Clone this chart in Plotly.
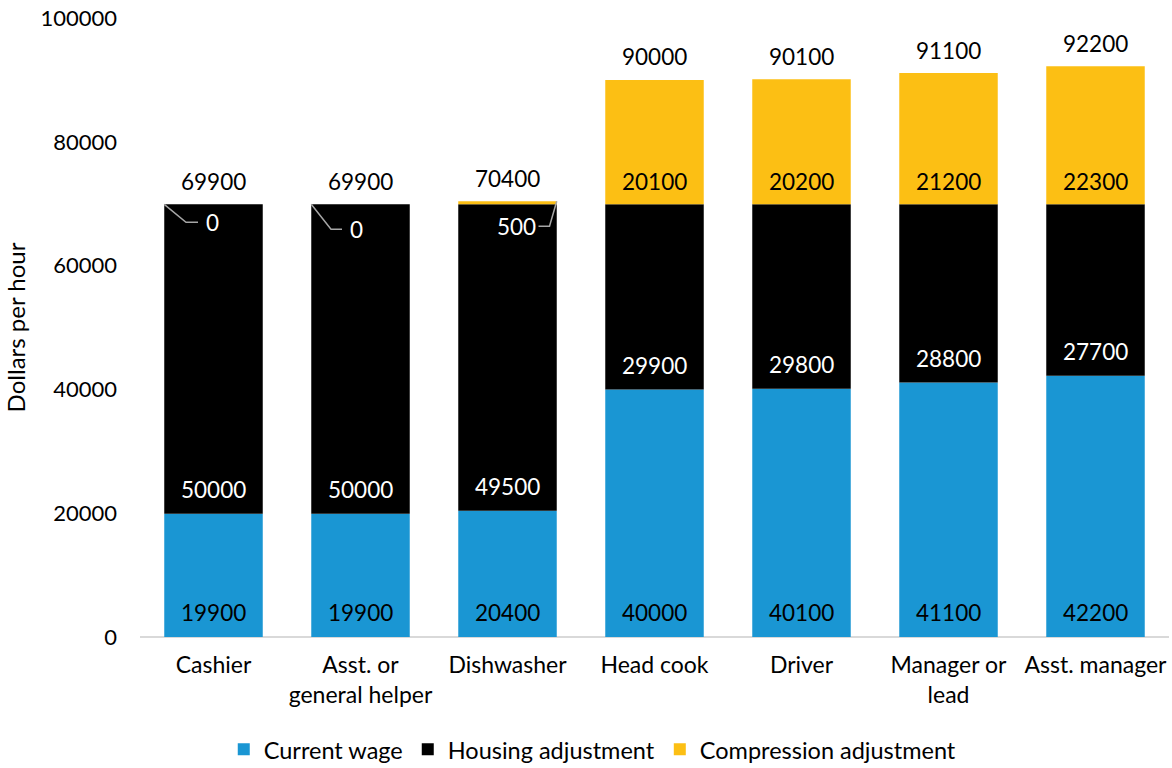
import plotly.graph_objects as go

categories = ["Cashier", "Asst. or<br>general helper", "Dishwasher", "Head cook",
              "Driver", "Manager or<br>lead", "Asst. manager"]
current_wage = [19900, 19900, 20400, 40000, 40100, 41100, 42200]
housing_adj = [50000, 50000, 49500, 29900, 29800, 28800, 27700]
compression_adj = [0, 0, 500, 20100, 20200, 21200, 22300]

BLUE = "#1a96d3"
BLACK = "#000000"
YELLOW = "#fcbf14"
FONT = "Lato"
LABEL_SIZE = 22.5

x = list(range(len(categories)))
totals = [a + b + c for a, b, c in zip(current_wage, housing_adj, compression_adj)]
housing_base = current_wage
comp_base = [a + b for a, b in zip(current_wage, housing_adj)]

fig = go.Figure()
for name, vals, base, col in [
    ("Current wage", current_wage, [0] * len(x), BLUE),
    ("Housing adjustment", housing_adj, housing_base, BLACK),
    ("Compression adjustment", compression_adj, comp_base, YELLOW),
]:
    fig.add_trace(go.Bar(x=x, y=vals, base=base, name=name, marker_color=col,
                         marker_line_width=0, width=0.67))

ann = []
# segment labels, placed just above each segment's base
for i in x:
    ann.append(dict(x=i, y=0, text=str(current_wage[i]), yshift=25,
                    font=dict(color="black")))
    ann.append(dict(x=i, y=housing_base[i], text=str(housing_adj[i]), yshift=24,
                    font=dict(color="white")))
    ann.append(dict(x=i, y=totals[i], text=str(totals[i]), yshift=23,
                    font=dict(color="black")))
    if compression_adj[i] >= 5000:
        ann.append(dict(x=i, y=comp_base[i], text=str(compression_adj[i]), yshift=23,
                        font=dict(color="black")))

# small compression values get a label with a leader line
PX_X = 1029 / 7          # pixels per category unit
PX_Y = 619 / 100000      # pixels per dollar
leaders = {
    # index: (label dx px, label dy px, corner side, knee dx px, end dx px)
    0: (-1.5, 18, -1, -27.5, -15.5),
    1: (-4.5, 25, -1, -29.5, -18.5),
    2: (9, 22, 1, 42, 31),
}
for i, (ldx, ldy, side, knee, end) in leaders.items():
    top = comp_base[i]
    ann.append(dict(x=i + ldx / PX_X, y=top, yshift=-ldy, text=str(compression_adj[i]),
                    font=dict(color="white")))
    yk = top - ldy / PX_Y
    fig.add_trace(go.Scatter(
        x=[i + side * 0.335, i + knee / PX_X, i + end / PX_X],
        y=[totals[i] if side > 0 else top, yk, yk],
        mode="lines", line=dict(color="#a6a6a6", width=1.5),
        showlegend=False, hoverinfo="skip"))

for a in ann:
    a.update(xref="x", yref="y", showarrow=False, xanchor="center", yanchor="middle")
    a["font"].update(family=FONT, size=LABEL_SIZE)

fig.update_layout(
    width=1172, height=768,
    margin=dict(l=140, r=3, t=18, b=131),
    barmode="overlay",
    plot_bgcolor="white", paper_bgcolor="white",
    font=dict(family=FONT, size=LABEL_SIZE, color="black"),
    annotations=ann,
    legend=dict(orientation="h", x=0.44, xanchor="center",
                yref="container", y=0.024, yanchor="middle",
                font=dict(family=FONT, size=23.5), itemwidth=30, traceorder="normal"),
    xaxis=dict(range=[-0.5, 6.5], tickmode="array", tickvals=x, ticktext=categories,
               showgrid=False, zeroline=False, showline=False, ticks="",
               ticklabelstandoff=12, tickfont=dict(size=23)),
    yaxis=dict(range=[0, 100000], tickvals=[0, 20000, 40000, 60000, 80000, 100000],
               showgrid=False, zeroline=True, zerolinecolor="#d9d9d9", zerolinewidth=2,
               showline=False, ticks="", ticklabelstandoff=22, tickformat="d",
               tickfont=dict(size=22),
               title=dict(text="Dollars per hour", font=dict(size=24), standoff=8)),
)

fig.write_html("out.html")
